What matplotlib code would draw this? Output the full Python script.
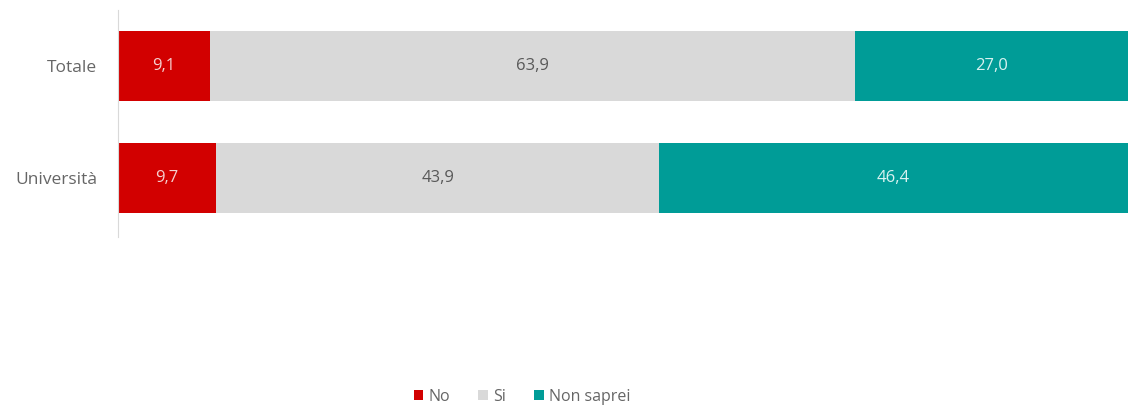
import matplotlib
matplotlib.use("Agg")
import matplotlib.pyplot as plt
import numpy as np

categories = ["Totale", "Università"]
series_names = ["No", "Si", "Non saprei"]
no_vals = [9.1, 9.7]
si_vals = [63.9, 43.9]
nonsaprei_vals = [27.0, 46.4]
colors = ["#D20000", "#D9D9D9", "#009C97"]
text_colors = ["#F5D0D0", "#595959", "#D8F2F0"]

plt.rcParams['font.family'] = ['Open Sans', 'DejaVu Sans']

fig = plt.figure(figsize=(11.28, 4.08), dpi=100)
ax = fig.add_axes([118/1128, 1-237/408, 1-118/1128, (237-10)/408])

y = np.arange(len(categories))
left = np.zeros(len(categories))
handles = []
for vals, name, c, tc in zip([no_vals, si_vals, nonsaprei_vals], series_names, colors, text_colors):
    vals = np.array(vals)
    b = ax.barh(y, vals, left=left, height=0.625, color=c, label=name)
    handles.append(b)
    for yi, l, v in zip(y, left, vals):
        ax.text(l + v/2, yi, f"{v:.1f}".replace(".", ","), ha="center", va="center",
                color=tc, fontsize=12)
    left += vals

ax.set_xlim(0, 100)
ax.set_ylim(1.527, -0.5)
ax.set_yticks(y)
ax.set_yticklabels(categories, fontsize=12.5, color="#666666")
ax.tick_params(axis="y", length=0, pad=15)
ax.set_xticks([])
for s in ["top", "right", "bottom"]:
    ax.spines[s].set_visible(False)
ax.spines["left"].set_color("#D9D9D9")
ax.spines["left"].set_linewidth(0.8)

fig.legend(handles=handles, labels=series_names, loc="center", bbox_to_anchor=(522/1128, 1-397/408),
           ncol=3, frameon=False, fontsize=11.5, handlelength=0.6, handleheight=0.6,
           handletextpad=0.3, columnspacing=1.8, labelcolor="#666666")

fig.savefig("out.png", dpi=100)
